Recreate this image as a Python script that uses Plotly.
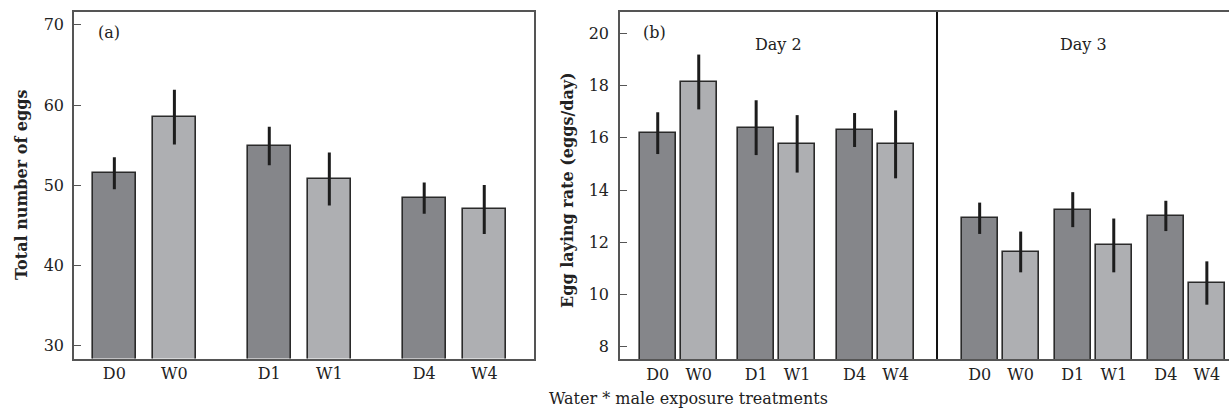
import plotly.graph_objects as go

# ---------------- data ----------------
labels = ["D0", "W0", "D1", "W1", "D4", "W4"]
bar_type = ["D", "W", "D", "W", "D", "W"]

total_eggs = [51.5, 58.5, 54.9, 50.8, 48.4, 47.0]
total_eggs_se = [2.0, 3.4, 2.4, 3.3, 1.95, 3.05]

rate_day2 = [16.18, 18.14, 16.39, 15.77, 16.30, 15.75]
rate_day2_se = [0.80, 1.05, 1.05, 1.10, 0.65, 1.30]

rate_day3 = [12.92, 11.63, 13.25, 11.88, 13.01, 10.44]
rate_day3_se = [0.60, 0.78, 0.67, 1.03, 0.58, 0.83]

yticks_a = [30, 40, 50, 60, 70]
yticks_b = [8, 10, 12, 14, 16, 18, 20]

# ---------------- style ----------------
W, H = 1229, 412
FONT = "DejaVu Serif"
DARK = "#85868a"
LIGHT = "#aeafb2"
OUTLINE = "#2a2a2a"
AXIS = "#555555"
TEXT = "#222222"
colors = {"D": DARK, "W": LIGHT}


def positions(group_gap, offset=0.0):
    # three pairs (D, W) per panel, bars one unit apart within a pair
    return [offset + (i // 2) * group_gap + (i % 2) for i in range(len(labels))]


pos_a = positions(2.58)
pos_b2 = positions(2.4)
pos_b3 = positions(2.27, offset=7.85)

fig = go.Figure()

bar_common = dict(
    marker_line=dict(color=OUTLINE, width=1.6),
    showlegend=False,
    hoverinfo="skip",
)
err_style = dict(type="data", symmetric=True, color="#1c1c1c", thickness=3, width=0)

fig.add_trace(go.Bar(
    x=pos_a, y=total_eggs, width=0.72,
    marker_color=[colors[t] for t in bar_type],
    error_y=dict(array=total_eggs_se, **err_style),
    xaxis="x", yaxis="y", **bar_common))

fig.add_trace(go.Bar(
    x=pos_b2 + pos_b3, y=rate_day2 + rate_day3, width=0.88,
    marker_color=[colors[t] for t in bar_type] * 2,
    error_y=dict(array=rate_day2_se + rate_day3_se, **err_style),
    xaxis="x2", yaxis="y2", **bar_common))

px = lambda v: v / W
py = lambda v: 1 - v / H

axis_font = dict(family=FONT, size=16, color=TEXT)

fig.update_layout(
    width=W, height=H,
    margin=dict(l=0, r=0, t=0, b=0),
    paper_bgcolor="white", plot_bgcolor="white",
    font=dict(family=FONT, size=16, color=TEXT),
    bargap=0,
    xaxis=dict(
        domain=[px(74), px(533.5)], range=[-0.672, 6.98],
        tickvals=pos_a, ticktext=labels, ticks="", tickfont=axis_font,
        showline=True, linecolor=AXIS, linewidth=1.5, mirror=True,
        showgrid=False, zeroline=False, anchor="y",
    ),
    yaxis=dict(
        domain=[py(358.5), py(12)], range=[28.42, 71.6],
        tickvals=yticks_a, ticks="inside", ticklen=7, tickwidth=1.2, tickcolor=AXIS,
        tickfont=axis_font, ticklabelstandoff=5,
        showline=True, linecolor=AXIS, linewidth=1.5, mirror=True,
        showgrid=False, zeroline=False, anchor="x",
    ),
    xaxis2=dict(
        domain=[px(620), 1.0], range=[-0.92, 13.93],
        tickvals=pos_b2 + pos_b3, ticktext=labels * 2, ticks="", tickfont=axis_font,
        showline=True, linecolor=AXIS, linewidth=1.5, mirror=True,
        showgrid=False, zeroline=False, anchor="y2",
    ),
    yaxis2=dict(
        domain=[py(359), py(12)], range=[7.53, 20.82],
        tickvals=yticks_b, ticks="inside", ticklen=7, tickwidth=1.2, tickcolor=AXIS,
        tickfont=axis_font, ticklabelstandoff=6,
        showline=True, linecolor=AXIS, linewidth=1.5, mirror=False,
        showgrid=False, zeroline=False, anchor="x2",
    ),
)

# divider between Day 2 and Day 3
fig.add_shape(type="line", xref="x2", yref="y2 domain",
              x0=6.81, x1=6.81, y0=0, y1=1,
              line=dict(color="#111111", width=2))

ann_font = dict(family=FONT, size=16, color=TEXT)
annotations = [
    dict(text="(a)", x=px(96), y=py(33), xanchor="left", yanchor="middle"),
    dict(text="(b)", x=px(641), y=py(33), xanchor="left", yanchor="middle"),
    dict(text="Day 2", x=px(778), y=py(45), xanchor="center", yanchor="middle"),
    dict(text="Day 3", x=px(1083), y=py(45), xanchor="center", yanchor="middle"),
    dict(text="Water * male exposure treatments", x=px(688), y=py(398),
         xanchor="center", yanchor="middle"),
    dict(text="<b>Total number of eggs</b>", x=px(21), y=py(185), textangle=-90,
         xanchor="center", yanchor="middle"),
    dict(text="<b>Egg laying rate (eggs/day)</b>", x=px(567), y=py(190), textangle=-90,
         xanchor="center", yanchor="middle"),
]
for a in annotations:
    fig.add_annotation(xref="paper", yref="paper", showarrow=False, font=ann_font, **a)

fig.write_html(
    "out.html",
    config={"displayModeBar": False},
    post_script="document.body.style.margin='0';document.body.style.padding='0';",
)
